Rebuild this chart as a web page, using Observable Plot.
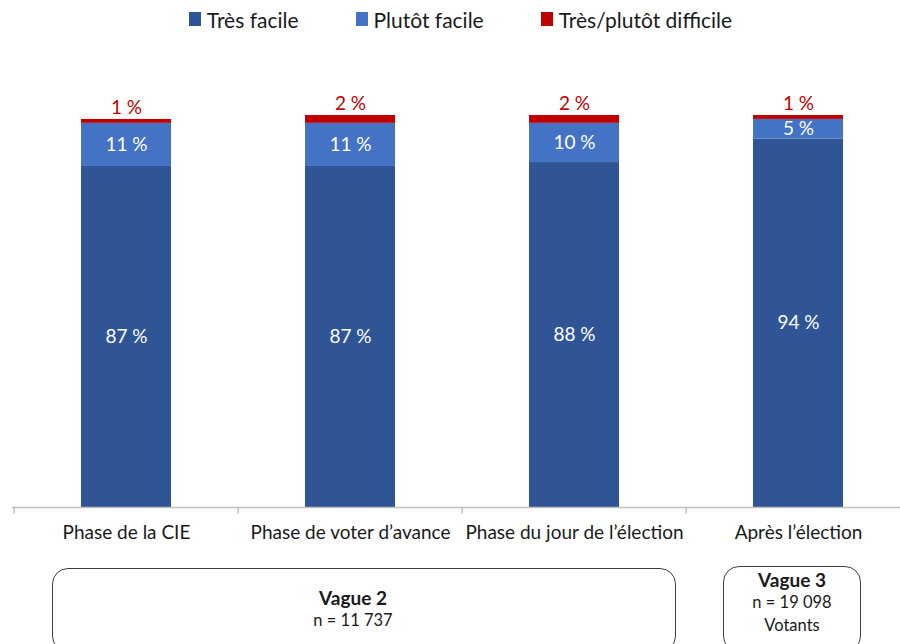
<!DOCTYPE html>
<html>
<head>
<meta charset="utf-8">
<script src="https://cdn.jsdelivr.net/npm/d3@7"></script>
<script src="https://cdn.jsdelivr.net/npm/@observablehq/plot@0.6"></script>
<style>
  html, body { margin: 0; padding: 0; background: #fff; width: 900px; height: 644px; overflow: hidden; font-family: Lato, "Liberation Sans", sans-serif; }
  #legend { position: absolute; left: 0; top: 0; width: 900px; height: 38px; display: flex; justify-content: center; align-items: center; font-size: 21px; color: #1a1a1a; padding-left: 21px; box-sizing: border-box; }
  .item { display: flex; align-items: center; margin: 0 28.5px; }
  .sw { width: 12px; height: 14px; margin-right: 6px; }
  #chart { position: absolute; left: 0; top: 40px; }
  .box { position: absolute; border: 1.5px solid #404040; border-radius: 16px; box-sizing: border-box; text-align: center; color: #1a1a1a; line-height: 22px; }
  .box b { font-size: 19px; display: block; }
  .box span { font-size: 16.5px; display: block; }
</style>
</head>
<body>
<div id="legend"></div>
<div id="chart"></div>
<div class="box" style="left:52px; top:568px; width:624px; height:84px; padding-top:18px; padding-right:22px;">
  <b>Vague 2</b><span>n = 11 737</span>
</div>
<div class="box" style="left:723px; top:566px; width:138px; height:86px; padding-top:2px;">
  <b>Vague 3</b><span>n = 19 098</span><span style="margin-top:1px">Votants</span>
</div>
<script>
const categories = ["Phase de la CIE", "Phase de voter d’avance", "Phase du jour de l’élection", "Après l’élection"];
const series = ["Très facile", "Plutôt facile", "Très/plutôt difficile"];
const tresFacile = [87, 87, 88, 94];
const plutotFacile = [11, 11, 10, 5];
const difficile = [1, 2, 2, 1];
const colors = ["#2f5597", "#4472c4", "#c00000"];

const values = [tresFacile, plutotFacile, difficile];
const data = [];
series.forEach((s, si) => categories.forEach((c, ci) => data.push({cat: c, series: s, value: values[si][ci]})));

// Legend
const legendEl = document.getElementById("legend");
series.forEach((s, i) => {
  const it = document.createElement("div");
  it.className = "item";
  it.innerHTML = `<div class="sw" style="background:${colors[i]}"></div><div>${s}</div>`;
  legendEl.appendChild(it);
});

const xRange = [12, 911];
const step = (xRange[1] - xRange[0]) / categories.length;

const chart = Plot.plot({
  width: 900,
  height: 604,
  marginLeft: 12,
  marginRight: 0,
  marginTop: 75,
  marginBottom: 137,
  style: {fontFamily: "Lato, 'Liberation Sans', sans-serif", background: "#fff"},
  x: {domain: categories, range: xRange, paddingInner: 0.6, paddingOuter: 0.3, label: null},
  y: {domain: [0, 100], axis: null},
  color: {domain: series, range: colors},
  marks: [
    Plot.barY(data, {x: "cat", y: "value", fill: "series", order: series}),
    Plot.text(data, Plot.stackY({x: "cat", y: "value", z: "series", order: series, text: d => d.series !== series[2] ? `${d.value} %` : null, fill: "white", fontSize: 19})),
    Plot.text(data, Plot.stackY2({x: "cat", y: "value", z: "series", order: series, text: d => d.series === series[2] ? `${d.value} %` : null, fill: "#c00000", fontSize: 19, dy: -12})),
    Plot.ruleY([0], {stroke: "#bfbfbf", strokeWidth: 1.5}),
    Plot.ruleX(categories, {x: d => d, dx: -step / 2, y1: 0, y2: -1.6, stroke: "#bfbfbf", strokeWidth: 1.5}),
    Plot.axisX({tickSize: 0, tickPadding: 18, fontSize: 19, fill: "#1a1a1a"})
  ]
});
document.getElementById("chart").appendChild(chart);
</script>
</body>
</html>
